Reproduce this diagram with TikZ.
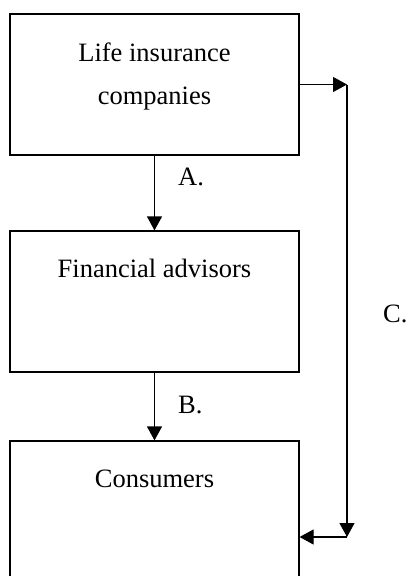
\documentclass[tikz,border=0pt]{standalone}
\usepackage{fontspec}
\setmainfont{Liberation Serif}
\usepackage{tikz}
\usetikzlibrary{arrows.meta}
\usetikzlibrary{positioning}
\tikzset{
    box/.style={draw=black, line width=1.2pt, rectangle, minimum width=289pt, minimum height=141pt, inner sep=0pt},
    boxtext/.style={anchor=base, align=center, font=\fontsize{26.5}{43}\selectfont},
    steplabel/.style={anchor=base west, inner sep=0pt, font=\fontsize{26.5}{32}\selectfont},
    flow/.style={line width=1.2pt, -{Triangle[length=14pt, width=15pt]}}
}

\begin{document}
\begin{tikzpicture}[x=1pt, y=-1pt]
    \useasboundingbox (0,0) rectangle (408,576);
    \clip (0,0) rectangle (408,576);
    % the three boxes
    \node[box] (life) at (154.5,84.5) {};
    \node[box] (advisors) at (154.5,301.5) {};
    \node[box] (consumers) at (154.5,511.5) {};
    \node[boxtext] (lifetext) at ([yshift=-91pt]life.north) {Life insurance\\companies};
    \node[boxtext] (advisorstext) at ([yshift=-47pt]advisors.north) {Financial advisors};
    \node[boxtext] (consumerstext) at ([yshift=-47pt]consumers.north) {Consumers};
    % direct route
    \coordinate (ctop) at (347,84.5);
    \coordinate (cbot) at (347,537);
    \draw[flow] (life.east) -- (ctop);
    \draw[flow] (ctop) -- (cbot);
    \draw[flow] (cbot) -- (consumers.east |- cbot);
    % route through the advisors
    \draw[flow] (life.south) -- (advisors.north);
    \draw[flow] (advisors.south) -- (consumers.north);
    \node[steplabel] (lblA) at (178,185) {A.};
    \node[steplabel] (lblB) at (178,413) {B.};
    \node[steplabel] (lblC) at (383,322) {C.};
\end{tikzpicture}
\end{document}
